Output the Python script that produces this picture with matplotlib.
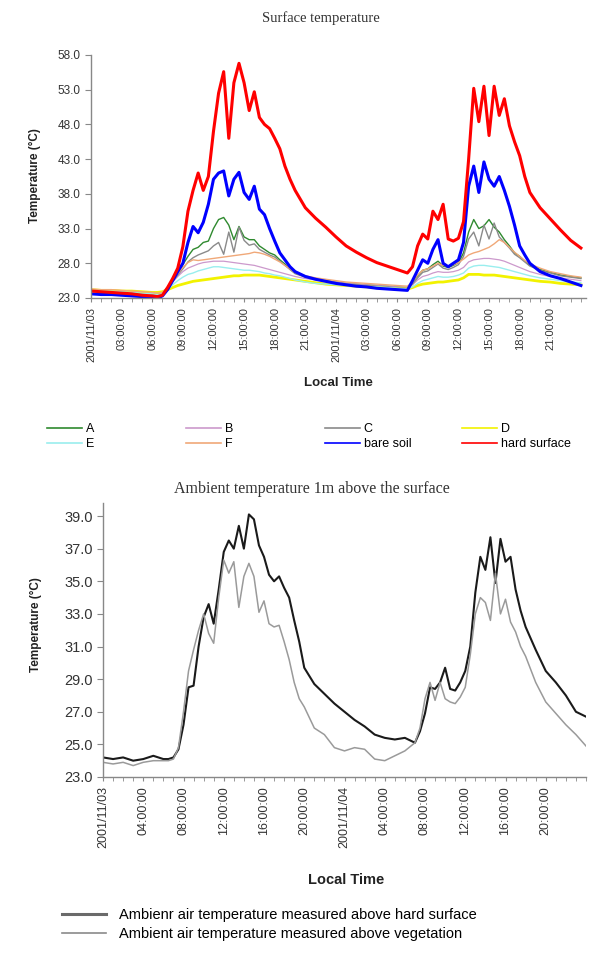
import numpy as np
import matplotlib
matplotlib.use('Agg')
import matplotlib.pyplot as plt
from matplotlib.lines import Line2D
from matplotlib.ticker import MultipleLocator, FormatStrFormatter

plt.rcParams['font.family'] = ['Liberation Sans', 'DejaVu Sans']

# ---- surface temperature (hours from 2001/11/03 00:00) ----
hours_top = [0, 1, 2, 3, 4, 5, 6, 6.5, 7, 7.5, 8, 8.5, 9, 9.5, 10, 10.5, 11, 11.5, 12, 12.5,
             13, 13.5, 14, 14.5, 15, 15.5, 16, 16.5, 17, 17.5, 18, 18.5, 19, 19.5, 20,
             21, 22, 23, 24, 25, 26, 27, 28, 29, 30, 31, 31.5, 32, 32.5, 33, 33.5, 34, 34.5,
             35, 35.5, 36, 36.5, 37, 37.5, 38, 38.5, 39, 39.5, 40, 40.5, 41, 41.5, 42, 42.5,
             43, 44, 45, 46, 47, 48]

site_a = [24.1, 24.0, 24.0, 23.9, 23.8, 23.7, 23.6, 23.5, 23.7, 24.5, 25.6, 26.6, 27.8, 29.0, 30.0, 30.3,
          31.0, 31.2, 33.0, 34.3, 34.6, 33.5, 31.4, 33.3, 31.8, 31.4, 31.4, 30.5, 30.0, 29.5, 29.2, 28.5,
          27.9, 27.2, 26.6, 26.1, 25.8, 25.5, 25.3, 25.1, 25.0, 24.9, 24.8, 24.7, 24.6, 24.5, 25.2, 26.2,
          27.0, 27.2, 27.8, 28.3, 27.6, 27.4, 27.7, 28.1, 29.5, 32.5, 34.3, 33.0, 33.4, 34.3, 33.2, 32.5,
          31.4, 30.5, 29.5, 29.0, 28.3, 27.7, 27.1, 26.7, 26.3, 26.1, 25.9]
site_b = [24.2, 24.1, 24.1, 24.0, 23.9, 23.8, 23.7, 23.6, 23.7, 24.4, 25.3, 26.1, 26.8, 27.3, 27.6, 27.9,
          28.1, 28.2, 28.3, 28.3, 28.3, 28.2, 28.1, 28.0, 27.9, 27.8, 27.7, 27.5, 27.3, 27.1, 26.9, 26.7,
          26.5, 26.3, 26.1, 25.8, 25.6, 25.4, 25.3, 25.1, 25.0, 24.9, 24.8, 24.7, 24.6, 24.5, 24.9, 25.6,
          26.1, 26.3, 26.6, 26.8, 26.7, 26.7, 26.8, 27.0, 27.4, 28.2, 28.5, 28.6, 28.7, 28.7, 28.6, 28.5,
          28.3, 28.0, 27.7, 27.4, 27.1, 26.8, 26.4, 26.1, 25.9, 25.7, 25.5]
site_c = [24.0, 24.0, 23.9, 23.9, 23.8, 23.7, 23.6, 23.5, 23.7, 24.4, 25.4, 26.3, 27.2, 28.2, 28.8, 29.2,
          29.5, 29.8, 30.5, 31.0, 29.3, 32.5, 29.6, 33.2, 31.3, 30.6, 30.8, 30.0, 29.6, 29.2, 28.9, 28.3,
          27.7, 27.1, 26.5, 26.0, 25.7, 25.4, 25.2, 25.0, 24.9, 24.8, 24.7, 24.6, 24.5, 24.4, 25.0, 25.9,
          26.7, 26.9, 27.4, 27.9, 27.3, 27.1, 27.4, 27.8, 29.0, 31.5, 32.5, 30.5, 33.5, 31.5, 33.8, 31.8,
          31.0, 30.2, 29.3, 28.8, 28.2, 27.6, 27.0, 26.6, 26.2, 26.0, 25.8]
site_d = [24.2, 24.1, 24.1, 24.0, 24.0, 23.9, 23.8, 23.8, 23.9, 24.2, 24.5, 24.8, 25.0, 25.2, 25.4, 25.5,
          25.6, 25.7, 25.8, 25.9, 26.0, 26.1, 26.2, 26.2, 26.3, 26.3, 26.3, 26.3, 26.2, 26.1, 26.0, 25.9,
          25.8, 25.7, 25.6, 25.4, 25.2, 25.0, 24.9, 24.8, 24.7, 24.6, 24.5, 24.4, 24.3, 24.3, 24.5, 24.8,
          25.0, 25.1, 25.2, 25.3, 25.3, 25.4, 25.5, 25.6, 25.9, 26.4, 26.4, 26.4, 26.3, 26.3, 26.3, 26.2,
          26.1, 26.0, 25.9, 25.8, 25.7, 25.6, 25.4, 25.3, 25.1, 25.0, 24.9]
site_e = [24.1, 24.0, 24.0, 23.9, 23.8, 23.7, 23.6, 23.5, 23.6, 24.2, 24.9, 25.5, 26.0, 26.4, 26.6, 26.9,
          27.1, 27.3, 27.5, 27.5, 27.4, 27.3, 27.2, 27.1, 27.0, 27.0, 26.9, 26.8, 26.6, 26.5, 26.3, 26.2,
          26.0, 25.8, 25.6, 25.3, 25.1, 25.0, 24.9, 24.8, 24.7, 24.6, 24.6, 24.5, 24.4, 24.3, 24.6, 25.1,
          25.5, 25.7, 25.9, 26.1, 26.0, 26.0, 26.1, 26.3, 26.6, 27.3, 27.6, 27.7, 27.7, 27.6, 27.5, 27.4,
          27.2, 27.0, 26.8, 26.6, 26.4, 26.2, 25.9, 25.7, 25.5, 25.3, 25.2]
site_f = [24.3, 24.2, 24.2, 24.1, 24.0, 23.9, 23.8, 23.7, 23.8, 24.6, 25.6, 26.5, 27.4, 28.1, 28.5, 28.4,
          28.5, 28.6, 28.7, 28.8, 28.9, 29.0, 29.1, 29.2, 29.3, 29.4, 29.6, 29.5, 29.3, 29.0, 28.6, 28.2,
          27.7, 27.2, 26.7, 26.2, 25.9, 25.7, 25.5, 25.3, 25.2, 25.1, 25.0, 24.9, 24.8, 24.7, 25.3, 26.3,
          27.0, 27.2, 27.6, 28.0, 27.7, 27.6, 27.8, 28.1, 28.6, 29.2, 29.5, 29.7, 30.0, 30.3, 30.8, 31.4,
          31.0, 30.3, 29.6, 29.0, 28.4, 27.9, 27.3, 26.8, 26.5, 26.2, 26.0]
bare_soil = [23.6, 23.5, 23.5, 23.4, 23.3, 23.2, 23.1, 23.0, 23.3, 24.2, 25.5, 26.8, 28.0, 31.0, 33.3, 32.4,
             33.9, 36.5, 40.1, 41.0, 41.3, 37.7, 40.1, 41.1, 38.2, 37.2, 39.1, 35.8, 35.0, 33.0, 31.2, 29.5,
             28.5, 27.5, 26.8, 26.1, 25.7, 25.4, 25.1, 24.9, 24.7, 24.6, 24.4, 24.3, 24.2, 24.1, 25.5, 27.0,
             28.5, 28.0, 30.0, 31.4, 28.0, 27.5, 28.0, 28.5, 31.0, 39.1, 42.0, 38.2, 42.6, 40.1, 39.1, 40.5,
             38.5, 36.2, 33.5, 30.5, 29.2, 28.0, 26.8, 26.2, 25.8, 25.3, 24.8]
hard_surface = [24.0, 23.9, 23.8, 23.7, 23.6, 23.4, 23.3, 23.2, 23.4, 24.5, 25.8, 27.3, 30.4, 35.5, 38.5, 41.0,
                38.5, 40.5, 47.0, 52.5, 55.6, 46.0, 54.0, 56.8, 54.0, 50.0, 52.7, 49.0, 48.0, 47.4, 46.0, 44.5,
                42.0, 40.1, 38.5, 36.0, 34.5, 33.2, 31.8, 30.5, 29.6, 28.8, 28.1, 27.6, 27.1, 26.6, 27.5, 30.5,
                32.2, 31.5, 35.5, 34.3, 36.5, 31.5, 31.2, 31.6, 34.0, 43.0, 53.2, 48.4, 53.5, 46.4, 53.5, 49.3,
                51.7, 47.8, 45.5, 43.5, 40.5, 38.2, 36.0, 34.4, 32.8, 31.3, 30.2]

top_names = ['A', 'B', 'C', 'D', 'E', 'F', 'bare soil', 'hard surface']
top_yticks = [23, 28, 33, 38, 43, 48, 53, 58]
top_ticks = [0, 3, 6, 9, 12, 15, 18, 21, 24, 27, 30, 33, 36, 39, 42, 45]
top_ticklabels = ['2001/11/03', '03:00:00', '06:00:00', '09:00:00', '12:00:00', '15:00:00',
                  '18:00:00', '21:00:00', '2001/11/04', '03:00:00', '06:00:00', '09:00:00',
                  '12:00:00', '15:00:00', '18:00:00', '21:00:00']

# ---- ambient air temperature 1 m above surface ----
hours_bot = hours_top
air_hard = [24.2, 24.1, 24.2, 24.0, 24.1, 24.3, 24.1, 24.1, 24.2, 24.7, 26.2, 28.5, 28.6, 31.0, 32.8, 33.6,
            32.4, 34.5, 36.8, 37.5, 37.0, 38.4, 37.0, 39.1, 38.8, 37.2, 36.5, 35.4, 35.0, 35.3, 34.6, 34.0,
            32.6, 31.3, 29.7, 28.7, 28.1, 27.5, 27.0, 26.5, 26.1, 25.6, 25.4, 25.3, 25.4, 25.1, 25.8, 26.9,
            28.5, 28.4, 28.8, 29.7, 28.4, 28.3, 28.8, 29.5, 31.0, 34.3, 36.5, 35.7, 37.7, 34.9, 37.6, 36.2,
            36.5, 34.5, 33.2, 32.2, 31.5, 30.8, 29.5, 28.8, 28.0, 27.0, 26.7]
air_veg = [23.9, 23.8, 23.9, 23.7, 23.9, 24.0, 24.0, 24.0, 24.1, 24.8, 27.0, 29.5, 30.8, 32.0, 33.0, 31.8,
           31.2, 34.0, 36.3, 35.5, 36.2, 33.4, 35.3, 36.1, 35.3, 33.1, 33.8, 32.4, 32.2, 32.3, 31.3, 30.2,
           28.8, 27.8, 27.3, 26.0, 25.6, 24.8, 24.6, 24.8, 24.7, 24.1, 24.0, 24.3, 24.6, 25.1, 26.0, 27.8,
           28.8, 27.7, 28.8, 27.8, 27.6, 27.5, 27.9, 28.5, 30.5, 33.0, 34.0, 33.7, 32.6, 35.5, 33.0, 33.9,
           32.5, 31.9, 31.0, 30.4, 29.6, 28.8, 27.6, 26.9, 26.2, 25.6, 24.9]

bot_names = ['Ambienr air temperature measured above hard surface',
             'Ambient air temperature measured above vegetation']
bot_yticks = [23, 25, 27, 29, 31, 33, 35, 37, 39]
bot_ticks = [0, 4, 8, 12, 16, 20, 24, 28, 32, 36, 40, 44]
bot_ticklabels = ['2001/11/03', '04:00:00', '08:00:00', '12:00:00', '16:00:00', '20:00:00',
                  '2001/11/04', '04:00:00', '08:00:00', '12:00:00', '16:00:00', '20:00:00']

top_colors = ['#2f8a2f', '#cc99cc', '#8a8a8a', '#f2f200', '#99eeee', '#f0a878', '#0000ff', '#ff0000']
top_widths = [1.0, 0.9, 1.0, 2.0, 1.0, 1.0, 2.2, 2.2]


def style_axis(ax, ylo, yhi, xhi, yticks, ticks, labels, ysize, xsize):
    ax.set_xlim(0, xhi)
    ax.set_ylim(ylo, yhi)
    for s in ['top', 'right']:
        ax.spines[s].set_visible(False)
    for s in ['left', 'bottom']:
        ax.spines[s].set_color('#888888')
        ax.spines[s].set_linewidth(1.0)
    ax.set_yticks(yticks)
    ax.set_xticks(ticks)
    ax.set_xticklabels(labels, rotation=90, fontsize=xsize, color='#333333')
    ax.xaxis.set_minor_locator(MultipleLocator(1))
    ax.yaxis.set_major_formatter(FormatStrFormatter('%.1f'))
    ax.tick_params(axis='y', labelsize=ysize, colors='#888888', labelcolor='#333333', length=4)
    ax.tick_params(axis='x', which='both', colors='#888888', labelcolor='#333333', length=3)


fig = plt.figure(figsize=(5.96, 9.55), dpi=100)

# top chart
ax1 = fig.add_axes([91 / 596, 1 - 298 / 955, 495 / 596, 243 / 955])
lines = []
for vals, name, c, w in zip([site_a, site_b, site_c, site_d, site_e, site_f, bare_soil, hard_surface],
                            top_names, top_colors, top_widths):
    ln, = ax1.plot(hours_top, vals, color=c, lw=w, label=name)
    lines.append(ln)
style_axis(ax1, 23, 58, 48.5, top_yticks, top_ticks, top_ticklabels, 8.5, 8)

fig.text(0.539, 1 - 18 / 955, 'Surface temperature', family='Liberation Serif', fontsize=10.5,
         ha='center', va='center', color='#333333')
fig.text(0.058, 1 - 176 / 955, 'Temperature (\u00b0C)', rotation=90, fontsize=8.5, fontweight='bold',
         ha='center', va='center', color='#222222')
fig.text(338 / 596, 1 - 383 / 955, 'Local Time', fontsize=9.5, fontweight='bold',
         ha='center', va='center', color='#222222')

# legend: four columns of two entries
col_x = [47, 186, 325, 462]
for i, x in enumerate(col_x):
    leg = fig.legend(handles=[lines[i], lines[i + 4]], loc='upper left',
                     bbox_to_anchor=(x / 596, 1 - 423 / 955), frameon=False, fontsize=9,
                     handlelength=2.8, handletextpad=0.3, borderpad=0, borderaxespad=0,
                     labelspacing=0.25)
    for h in leg.legend_handles:
        h.set_linewidth(1.2)

# bottom chart
ax2 = fig.add_axes([103 / 596, 1 - 777 / 955, 483 / 596, 274 / 955])
ln_h, = ax2.plot(hours_bot, air_hard, color='#1a1a1a', lw=1.5)
ln_v, = ax2.plot(hours_bot, air_veg, color='#9a9a9a', lw=1.1)
style_axis(ax2, 23, 39.8, 48, bot_yticks, bot_ticks, bot_ticklabels, 10.5, 9)

fig.text(0.524, 1 - 489 / 955, 'Ambient temperature 1m above the surface', family='Liberation Serif',
         fontsize=11.5, ha='center', va='center', color='#333333')
fig.text(0.06, 1 - 625 / 955, 'Temperature (\u00b0C)', rotation=90, fontsize=8.5, fontweight='bold',
         ha='center', va='center', color='#222222')
fig.text(346 / 596, 1 - 880 / 955, 'Local Time', fontsize=10.5, fontweight='bold',
         ha='center', va='center', color='#222222')

h1 = Line2D([], [], color='#6a6a6a', lw=2.2)
h2 = Line2D([], [], color='#8a8a8a', lw=1.2)
fig.legend(handles=[h1, h2], labels=bot_names, loc='upper left',
           bbox_to_anchor=(62 / 596, 1 - 908 / 955), frameon=False, fontsize=10.5,
           handlelength=3.0, handletextpad=0.9, borderpad=0, borderaxespad=0, labelspacing=0.35)

fig.savefig('out.png', dpi=100)
